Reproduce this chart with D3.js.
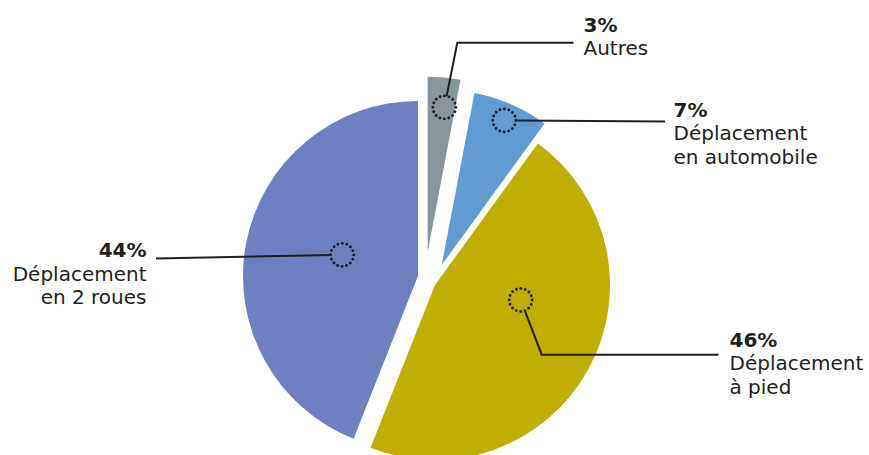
<!DOCTYPE html>
<html>
<head>
<meta charset="utf-8">
<script src="https://cdn.jsdelivr.net/npm/d3@7"></script>
<style>
  html, body { margin: 0; padding: 0; background: #ffffff; }
  svg { display: block; }
  text { font-family: "DejaVu Sans", "Open Sans", sans-serif; fill: #231f20; }
</style>
</head>
<body>
<svg id="chart" width="869" height="455"></svg>
<script>
// ---- data ----
const categories = ["Autres", "Déplacement en automobile", "Déplacement à pied", "Déplacement en 2 roues"];
const values = [3, 7, 46, 44];
const percentLabels = ["3%", "7%", "46%", "44%"];
const labelLines = [["Autres"], ["Déplacement", "en automobile"], ["Déplacement", "à pied"], ["Déplacement", "en 2 roues"]];

// ---- style / layout ----
const colors = ["#88959b", "#619bd3", "#c0ae00", "#6f80c1"];
const W = 869, H = 455;
const cx = 418, cy = 276, R = 175;
// manual explode offsets for each slice (px)
const offsets = [[9.7, -24.3], [23.7, -11], [17, 9], [0, 0]];
// annotation layout: marker position in slice (angle fraction, radius fraction), leader path, label anchor
const annot = [
  { t: 0.61, k: 0.83, path: [[457.3, 42.7], [573.5, 42.7]], lx: 583.5, ly: 31.7, anchor: "start" },
  { t: 0.50, k: 0.90, path: [[665, 121.5]], lx: 673.5, ly: 116.7, anchor: "start" },
  { t: 0.386, k: 0.497, path: [[541.7, 354.7], [718.5, 354.7]], lx: 729.5, ly: 346.7, anchor: "start" },
  { t: 0.53, k: 0.45, path: [[156, 258.5]], lx: 146.5, ly: 257.3, anchor: "end" }
];
const markerR = 11.5;
const lineH = 23.4;

const svg = d3.select("#chart");
const pie = d3.pie().sort(null).value(d => d).startAngle(0).endAngle(2 * Math.PI);
const arcs = pie(values);
const arc = d3.arc().innerRadius(0).outerRadius(R);

const g = svg.append("g").attr("transform", `translate(${cx},${cy})`);

g.selectAll("path.slice")
  .data(arcs)
  .enter().append("path")
  .attr("class", "slice")
  .attr("transform", (d, i) => `translate(${offsets[i][0]},${offsets[i][1]})`)
  .attr("fill", (d, i) => colors[i])
  .attr("d", arc);

// markers & leaders
arcs.forEach((d, i) => {
  const a = annot[i];
  const ang = d.startAngle + a.t * (d.endAngle - d.startAngle);
  const r = a.k * R;
  const mx = cx + offsets[i][0] + r * Math.sin(ang);
  const my = cy + offsets[i][1] - r * Math.cos(ang);

  svg.append("circle")
    .attr("cx", mx).attr("cy", my).attr("r", markerR)
    .attr("fill", "none")
    .attr("stroke", "#231f20")
    .attr("stroke-width", 2.9)
    .attr("stroke-linecap", "round")
    .attr("stroke-dasharray", "0 4.5");

  const first = a.path[0];
  const dx = first[0] - mx, dy = first[1] - my;
  const len = Math.hypot(dx, dy);
  const sx = mx + dx / len * markerR, sy = my + dy / len * markerR;
  const pts = [[sx, sy]].concat(a.path);
  svg.append("path")
    .attr("d", d3.line()(pts))
    .attr("fill", "none")
    .attr("stroke", "#231f20")
    .attr("stroke-width", 2);

  const lines = [{ t: percentLabels[i], w: 700 }].concat(labelLines[i].map(s => ({ t: s, w: 400 })));
  lines.forEach((ln, j) => {
    svg.append("text")
      .attr("x", a.lx).attr("y", a.ly + lineH * j)
      .attr("text-anchor", a.anchor)
      .style("font-size", "20px")
      .style("font-weight", ln.w)
      .text(ln.t);
  });
});
</script>
</body>
</html>
